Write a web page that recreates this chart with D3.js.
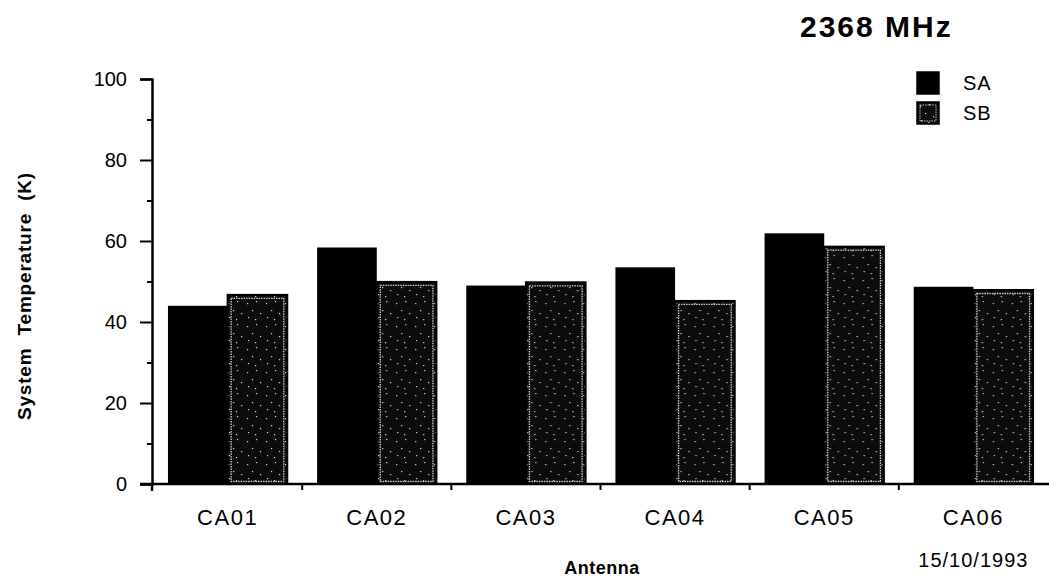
<!DOCTYPE html>
<html>
<head>
<meta charset="utf-8">
<script src="https://cdn.jsdelivr.net/npm/d3@7"></script>
<style>
  html, body { margin: 0; padding: 0; background: #fff; }
  svg { display: block; font-family: "Liberation Sans", Arial, Helvetica, sans-serif; }
</style>
</head>
<body>
<svg id="chart" width="1049" height="580"></svg>
<script>
// System temperature per antenna, two sidebands
const antennas = ["CA01", "CA02", "CA03", "CA04", "CA05", "CA06"];
const seriesNames = ["SA", "SB"];
const saValues = [44, 58.4, 49, 53.5, 61.9, 48.7];
const sbValues = [46.7, 49.9, 49.8, 45.2, 58.6, 47.9];
const majorTicks = [0, 20, 40, 60, 80, 100];
const minorTicks = [10, 30, 50, 70, 90];
const titleText = "2368 MHz";
const xTitle = "Antenna";
const yTitle = "System  Temperature  (K)";
const dateText = "15/10/1993";

const rows = antennas.map((a, i) => ({ antenna: a, SA: saValues[i], SB: sbValues[i] }));

const svg = d3.select("#chart");
const defs = svg.append("defs");

// Stippled fill for the SB bars: dark ground with sparse light specks
const pat = defs.append("pattern")
  .attr("id", "stipple")
  .attr("patternUnits", "userSpaceOnUse")
  .attr("width", 19).attr("height", 23);
pat.append("rect").attr("width", 19).attr("height", 23).attr("fill", "#0c0c0c");
const specks = [[3, 4], [12, 2], [8, 11], [16, 14], [4, 18], [11, 20]];
pat.selectAll("rect.sp").data(specks).join("rect")
  .attr("class", "sp")
  .attr("x", d => d[0]).attr("y", d => d[1])
  .attr("width", 1.2).attr("height", 1.2)
  .attr("fill", "#d8d8d8");

const y = d3.scaleLinear().domain([0, 100]).range([484, 79]);
const x = d3.scaleBand().domain(antennas).range([152, 1049])
  .paddingInner(0.2).paddingOuter(0.107);
const x1 = d3.scaleBand().domain(seriesNames).range([0, x.bandwidth()]);

// Bars
const groups = svg.append("g").selectAll("g").data(rows).join("g")
  .attr("transform", d => `translate(${x(d.antenna)},0)`);

groups.append("rect")
  .attr("x", x1("SA")).attr("width", x1.bandwidth())
  .attr("y", d => y(d.SA)).attr("height", d => y(0) - y(d.SA))
  .attr("fill", "#000");

groups.append("rect")
  .attr("x", x1("SB")).attr("width", x1.bandwidth())
  .attr("y", d => y(d.SB)).attr("height", d => y(0) - y(d.SB))
  .attr("fill", "url(#stipple)")
  .attr("stroke", "#000").attr("stroke-width", 2);

// light dotted inner edge of the stippled bars
groups.append("rect")
  .attr("x", x1("SB") + 3.5).attr("width", x1.bandwidth() - 7)
  .attr("y", d => y(d.SB) + 3.5).attr("height", d => y(0) - y(d.SB) - 6)
  .attr("fill", "none")
  .attr("stroke", "#cfcfcf").attr("stroke-width", 1.3)
  .attr("stroke-dasharray", "1.5,1");

// Y axis
const yAxis = svg.append("g").attr("transform", "translate(152,0)")
  .call(d3.axisLeft(y).tickValues(majorTicks).tickSize(12).tickPadding(13).tickFormat(d3.format("d")));
yAxis.select(".domain").attr("stroke-width", 2.5);
yAxis.selectAll(".tick line").attr("stroke-width", 2);
yAxis.selectAll("text").attr("font-size", 20).attr("fill", "#000")
  .attr("font-family", "'Liberation Sans', Arial, sans-serif");

const yMinor = svg.append("g").attr("transform", "translate(152,0)")
  .call(d3.axisLeft(y).tickValues(minorTicks).tickSize(5).tickFormat(""));
yMinor.select(".domain").remove();
yMinor.selectAll(".tick line").attr("stroke-width", 2);

// Baseline and category separators
svg.append("line")
  .attr("x1", 140).attr("x2", 1049)
  .attr("y1", y(0)).attr("y2", y(0))
  .attr("stroke", "#000").attr("stroke-width", 2.5);

svg.append("line")
  .attr("x1", 152).attr("x2", 152)
  .attr("y1", y(0)).attr("y2", y(0) + 7)
  .attr("stroke", "#000").attr("stroke-width", 2.5);

const gap = x.step() * x.paddingInner();
svg.append("g").selectAll("line").data(antennas.slice(0, -1)).join("line")
  .attr("x1", d => x(d) + x.bandwidth() + gap / 2)
  .attr("x2", d => x(d) + x.bandwidth() + gap / 2)
  .attr("y1", y(0)).attr("y2", y(0) + 6)
  .attr("stroke", "#000").attr("stroke-width", 2);

// X category labels
const xAxis = svg.append("g").attr("transform", `translate(0,${y(0)})`)
  .call(d3.axisBottom(x).tickSize(0).tickPadding(25));
xAxis.select(".domain").remove();
xAxis.selectAll("text").attr("font-size", 22).attr("fill", "#000")
  .attr("letter-spacing", 1.5)
  .attr("font-family", "'Liberation Sans', Arial, sans-serif");

// Titles
svg.append("text")
  .attr("x", 800).attr("y", 37)
  .attr("font-size", 30).attr("font-weight", "bold")
  .attr("letter-spacing", 2)
  .text(titleText);

svg.append("text")
  .attr("x", 602).attr("y", 574)
  .attr("text-anchor", "middle")
  .attr("font-size", 18).attr("font-weight", "bold")
  .attr("letter-spacing", 0.5)
  .text(xTitle);

svg.append("text")
  .attr("transform", "translate(31,296) rotate(-90)")
  .attr("text-anchor", "middle")
  .attr("font-size", 19).attr("font-weight", "bold")
  .attr("letter-spacing", 0.8)
  .attr("xml:space", "preserve")
  .style("white-space", "pre")
  .text(yTitle);

svg.append("text")
  .attr("x", x("CA06") + x.bandwidth() / 2).attr("y", 567)
  .attr("text-anchor", "middle")
  .attr("font-size", 20)
  .attr("letter-spacing", 1)
  .text(dateText);

// Legend
const legend = svg.append("g").selectAll("g").data(seriesNames).join("g")
  .attr("transform", (d, i) => `translate(917,${72 + i * 30})`);
legend.append("rect")
  .attr("width", 22).attr("height", 22)
  .attr("fill", d => d === "SA" ? "#000" : "url(#stipple)")
  .attr("stroke", "#000").attr("stroke-width", 1.5);
legend.filter(d => d === "SB").append("rect")
  .attr("x", 3).attr("y", 3).attr("width", 16).attr("height", 16)
  .attr("fill", "none").attr("stroke", "#bbb").attr("stroke-width", 1)
  .attr("stroke-dasharray", "1.5,1");
legend.append("text")
  .attr("x", 46).attr("y", 18)
  .attr("font-size", 20)
  .attr("letter-spacing", 1)
  .text(d => d);
</script>
</body>
</html>
